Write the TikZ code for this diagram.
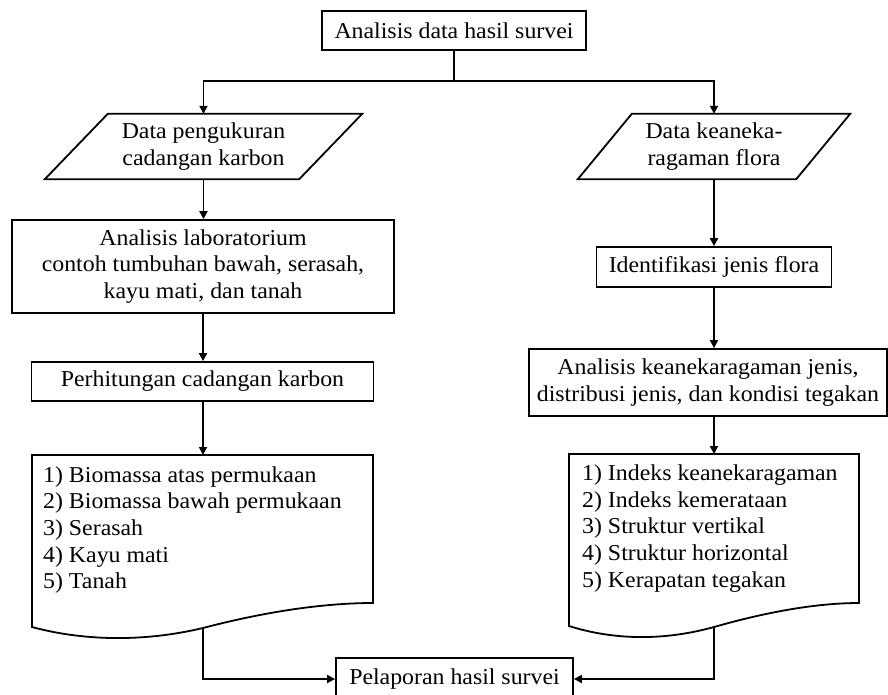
\documentclass[tikz,border=0pt]{standalone}
\usepackage{fontspec}
\setmainfont{Liberation Serif}[FakeStretch=1.05]
\usetikzlibrary{arrows.meta}
\begin{document}
\begin{tikzpicture}[x=1pt,y=-1pt,
  lw/.style={line width=1.8pt},
  txt/.style={font=\fontsize{22.7}{26.6}\selectfont, inner sep=0pt},
  box/.style={txt, lw, draw, align=center},
  paratext/.style={txt, align=center, minimum height=65pt},
  listtext/.style={txt, align=left, anchor=west},
  arr/.style={lw, -{Triangle[length=8pt,width=8pt]}}
]
\useasboundingbox (0,0) rectangle (888,694);
\clip (0,0) rectangle (888,694);

% top
\node[box, minimum width=264pt, minimum height=39pt] (top) at (454,30.5) {Analisis data hasil survei};
\coordinate (j) at (454,81);

% parallelograms
\node[paratext, minimum width=254pt] (p1) at (203.5,146.5) {Data pengukuran\\cadangan karbon};
\draw[lw] ([xshift=31.5pt]p1.north west) -- ([xshift=31.5pt]p1.north east) -- ([xshift=-31.5pt]p1.south east) -- ([xshift=-31.5pt]p1.south west) -- cycle;
\node[paratext, minimum width=218pt] (p2) at (714,146.5) {Data keaneka-\\ragaman flora};
\draw[lw] ([xshift=27pt]p2.north west) -- ([xshift=27pt]p2.north east) -- ([xshift=-27pt]p2.south east) -- ([xshift=-27pt]p2.south west) -- cycle;

% left column
\node[box, minimum width=382pt, minimum height=93pt] (lab) at (203,266.5) {Analisis laboratorium\\contoh tumbuhan bawah, serasah,\\kayu mati, dan tanah};
\node[box, minimum width=342pt, minimum height=39pt] (perh) at (202.5,381.5) {Perhitungan cadangan karbon};
\draw[lw] (32,455) -- (373,455) -- (373,603) .. controls (320,603) and (260,613) .. (203,628) .. controls (140,643) and (80,640) .. (32,627) -- cycle;
\coordinate (d1t) at (203,455);
\coordinate (d1b) at (203,628);
\node[listtext] (l1) at (43,530) {1) Biomassa atas permukaan\\2) Biomassa bawah permukaan\\3) Serasah\\4) Kayu mati\\5) Tanah};

% right column
\node[box, minimum width=235pt, minimum height=40pt] (ident) at (714,267) {Identifikasi jenis flora};
\node[box, minimum width=358pt, minimum height=67pt] (ana) at (708,382.5) {Analisis keanekaragaman jenis,\\distribusi jenis, dan kondisi tegakan};
\draw[lw] (569,454) -- (859,454) -- (859,603) .. controls (814,603) and (763,613) .. (714,627) .. controls (660,642) and (610,639) .. (569,626) -- cycle;
\coordinate (d2t) at (714,454);
\coordinate (d2b) at (714,627);
\node[listtext] (l2) at (582,528.5) {1) Indeks keanekaragaman\\2) Indeks kemerataan\\3) Struktur vertikal\\4) Struktur horizontal\\5) Kerapatan tegakan};

% bottom
\node[box, minimum width=237pt, minimum height=42pt] (pel) at (454.5,679) {Pelaporan hasil survei};

% connectors
\draw[lw] (top.south) -- (j);
\draw[arr] (j) -| (p1.north);
\draw[arr] (j) -| (p2.north);
\draw[arr] (p1.south) -- (p1.south |- lab.north);
\draw[arr] (lab.south) -- (lab.south |- perh.north);
\draw[arr] (perh.south -| d1t) -- (d1t);
\draw[arr] (p2.south) -- (ident.north);
\draw[arr] (ident.south) -- (ident.south |- ana.north);
\draw[arr] (ana.south -| d2t) -- (d2t);
\draw[arr] (d1b) |- (pel.west);
\draw[arr] (d2b) |- (pel.east);
\end{tikzpicture}
\end{document}
